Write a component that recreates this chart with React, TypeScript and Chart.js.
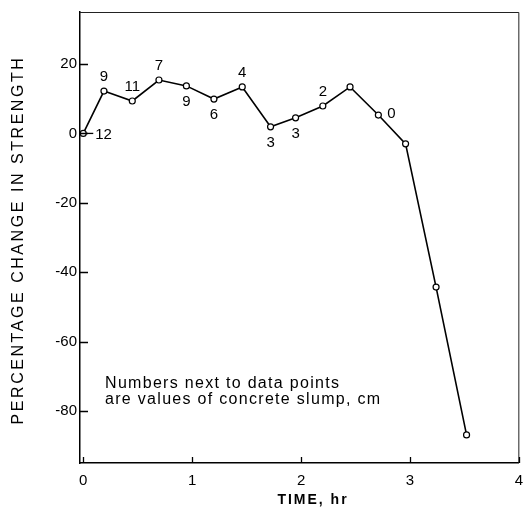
import React, { useEffect, useRef } from "react";
import { Chart, registerables } from "chart.js";

Chart.register(...registerables);

const timeHr = [0, 0.19, 0.45, 0.695, 0.947, 1.2, 1.46, 1.72, 1.95, 2.2, 2.45, 2.71, 2.96, 3.24, 3.52];
const strengthChange = [0, 12.2, 9.35, 15.4, 13.7, 9.9, 13.4, 1.9, 4.5, 7.9, 13.4, 5.3, -3, -44.3, -86.9];
const slumpLabels = ["12", "9", "11", "7", "9", "6", "4", "3", "3", "2", "", "0", "", "", ""];
const slumpLabelSide = ["leader", "above", "above", "above", "below", "below", "above", "below", "below", "above", "", "right", "", "", ""];
const xTickValues = [0, 1, 2, 3, 4];
const yTickValues = [-80, -60, -40, -20, 0, 20];
const yTitle = "PERCENTAGE CHANGE IN STRENGTH";
const xTitle = "TIME, hr";
const noteLines = ["Numbers next to data points", "are values of concrete slump, cm"];
const notePos = { x: 0.2, y: -73.5 };

const FONT = '"Liberation Sans", Arial, Helvetica, sans-serif';

const decorPlugin = {
  id: "decor",
  afterDraw(chart: any) {
    const ctx = chart.ctx;
    const { left, right, top, bottom } = chart.chartArea;
    const xs = chart.scales.x;
    const ys = chart.scales.y;
    ctx.save();
    // top and right frame
    ctx.strokeStyle = "#222";
    ctx.lineWidth = 1;
    ctx.beginPath();
    ctx.moveTo(left, top + 0.5);
    ctx.lineTo(right, top + 0.5);
    ctx.lineTo(right, bottom);
    ctx.stroke();
    // inward ticks
    ctx.strokeStyle = "#000";
    ctx.lineWidth = 1.3;
    ctx.beginPath();
    for (const v of yTickValues) {
      const py = Math.round(ys.getPixelForValue(v)) + 0.5;
      ctx.moveTo(left, py);
      ctx.lineTo(left + 8, py);
    }
    for (const v of xTickValues) {
      const px = Math.round(xs.getPixelForValue(v)) + 0.5;
      ctx.moveTo(px, bottom);
      ctx.lineTo(px, bottom - 6);
    }
    ctx.stroke();
    // slump labels
    ctx.fillStyle = "#000";
    ctx.font = `15px ${FONT}`;
    ctx.textBaseline = "middle";
    for (let i = 0; i < slumpLabels.length; i++) {
      const t = slumpLabels[i];
      if (!t) continue;
      const px = xs.getPixelForValue(timeHr[i]);
      const py = ys.getPixelForValue(strengthChange[i]);
      const side = slumpLabelSide[i];
      ctx.textAlign = "center";
      if (side === "above") ctx.fillText(t, px, py - 14);
      else if (side === "below") ctx.fillText(t, px, py + 16);
      else if (side === "right") {
        ctx.textAlign = "left";
        ctx.fillText(t, px + 9, py - 1);
      } else if (side === "leader") {
        ctx.beginPath();
        ctx.moveTo(px + 2, py);
        ctx.lineTo(px + 10, py);
        ctx.stroke();
        ctx.textAlign = "left";
        ctx.fillText(t, px + 12, py + 1);
      }
    }
    // note
    ctx.font = `16px ${FONT}`;
    (ctx as any).letterSpacing = "1.3px";
    ctx.textAlign = "left";
    ctx.textBaseline = "alphabetic";
    const nx = xs.getPixelForValue(notePos.x);
    const ny = ys.getPixelForValue(notePos.y);
    noteLines.forEach((l, i) => ctx.fillText(l, nx, ny + i * 15.5));
    // x title
    ctx.font = `bold 14px ${FONT}`;
    ctx.textAlign = "center";
    ctx.textBaseline = "middle";
    (ctx as any).letterSpacing = "2px";
    ctx.fillText(xTitle, 313, 500);
    // y title
    ctx.font = `16px ${FONT}`;
    (ctx as any).letterSpacing = "2.55px";
    ctx.translate(19, 240);
    ctx.rotate(-Math.PI / 2);
    ctx.fillText(yTitle, 0, 0);
    ctx.restore();
  },
};

export default function App() {
  const ref = useRef<HTMLCanvasElement | null>(null);
  useEffect(() => {
    if (!ref.current) return;
    const chart = new Chart(ref.current, {
      type: "scatter",
      data: {
        datasets: [
          {
            data: timeHr.map((x, i) => ({ x, y: strengthChange[i] })),
            showLine: true,
            borderColor: "#000",
            borderWidth: 1.6,
            pointRadius: 3,
            pointBorderWidth: 1.2,
            pointBackgroundColor: "#fff",
            pointBorderColor: "#000",
            clip: false,
          } as any,
        ],
      },
      options: {
        responsive: false,
        animation: false,
        layout: { padding: { top: 12, right: 7, left: 0, bottom: 0 } },
        plugins: { legend: { display: false }, tooltip: { enabled: false } },
        scales: {
          x: {
            type: "linear",
            min: -0.03,
            max: 4,
            afterBuildTicks: (s: any) => {
              s.ticks = xTickValues.map((v) => ({ value: v }));
            },
            afterFit: (s: any) => {
              s.height = 57;
            },
            grid: { display: false, drawTicks: false },
            border: { display: true, color: "#000", width: 1.5 },
            ticks: { color: "#000", padding: 9, font: { family: FONT, size: 15 }, maxRotation: 0 },
          },
          y: {
            type: "linear",
            min: -95,
            max: 35,
            afterBuildTicks: (s: any) => {
              s.ticks = yTickValues.map((v) => ({ value: v }));
            },
            afterFit: (s: any) => {
              s.width = 80;
            },
            grid: { display: false, drawTicks: false },
            border: { display: true, color: "#000", width: 1.5 },
            ticks: { color: "#000", padding: 3, font: { family: FONT, size: 15 } },
          },
        },
      },
      plugins: [decorPlugin],
    });
    return () => chart.destroy();
  }, []);
  return (
    <div style={{ position: "absolute", left: 0, top: 0, width: 532, height: 520, background: "#fff" }}>
      <canvas ref={ref} width={532} height={520} />
    </div>
  );
}
